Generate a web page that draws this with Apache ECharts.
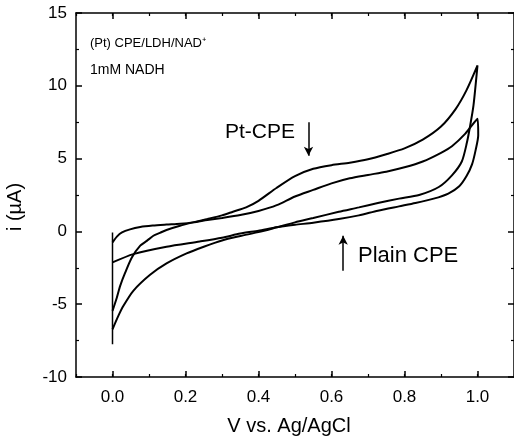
<!DOCTYPE html>
<html>
<head>
<meta charset="utf-8">
<script src="https://cdn.jsdelivr.net/npm/echarts@6/dist/echarts.min.js"></script>
<style>
html,body{margin:0;padding:0;background:#fff;}
#chart{width:514px;height:439px;}
</style>
</head>
<body>
<div id="chart"></div>
<script>
// ---- Data (V vs. Ag/AgCl, i in µA) ----
// Pt-CPE: forward (anodic) scan from 0 V to 1.0 V
const ptForward = [
  [0, -5.46], [0.012, -4.54], [0.021, -3.74], [0.035, -2.82], [0.053, -1.79],
  [0.076, -0.98], [0.094, -0.65], [0.112, -0.3], [0.13, -0.1], [0.148, 0.1],
  [0.185, 0.39], [0.221, 0.62], [0.26, 0.85], [0.30, 1.1], [0.33, 1.35],
  [0.366, 1.65], [0.40, 2.1], [0.45, 3.0], [0.50, 3.8], [0.55, 4.3],
  [0.60, 4.55], [0.65, 4.72], [0.70, 4.95], [0.75, 5.3], [0.80, 5.7],
  [0.85, 6.3], [0.90, 7.2], [0.94, 8.4], [0.97, 9.7], [1.0, 11.4]
];
// Pt-CPE: return (cathodic) scan from 1.0 V back to 0 V
const ptReturn = [
  [1.0, 11.4], [0.989, 8.65], [0.98, 7.27], [0.971, 6.1], [0.957, 4.8],
  [0.93, 3.85], [0.894, 3.05], [0.84, 2.5], [0.785, 2.25], [0.727, 1.95],
  [0.675, 1.65], [0.62, 1.35], [0.55, 0.92], [0.50, 0.62], [0.45, 0.28],
  [0.40, -0.05], [0.35, -0.32], [0.30, -0.62], [0.25, -1.05], [0.203, -1.51],
  [0.148, -2.2], [0.103, -2.98], [0.057, -4.08], [0.03, -5.11], [0.016, -5.8],
  [0, -6.72]
];
// Plain CPE: forward scan
const plainForward = [
  [0, -0.76], [0.012, -0.36], [0.026, -0.07], [0.048, 0.14], [0.076, 0.3],
  [0.11, 0.4], [0.148, 0.47], [0.185, 0.53], [0.221, 0.62], [0.26, 0.78],
  [0.30, 0.92], [0.35, 1.12], [0.40, 1.4], [0.45, 1.8], [0.50, 2.4],
  [0.55, 2.85], [0.60, 3.3], [0.65, 3.65], [0.70, 3.88], [0.75, 4.1],
  [0.80, 4.4], [0.85, 4.8], [0.90, 5.4], [0.93, 5.85], [0.966, 6.7], [1.0, 7.73]
];
// Plain CPE: return scan
const plainReturn = [
  [1.0, 7.73], [1.002, 6.6], [0.995, 5.6], [0.985, 4.6], [0.97, 3.8],
  [0.95, 3.1], [0.92, 2.6], [0.88, 2.25], [0.83, 1.95], [0.785, 1.72],
  [0.727, 1.42], [0.675, 1.1], [0.62, 0.85], [0.55, 0.6], [0.50, 0.45],
  [0.45, 0.28], [0.40, 0.05], [0.35, -0.15], [0.30, -0.43], [0.239, -0.69],
  [0.148, -1.05], [0.057, -1.56], [0, -2.13]
];
// Potential switching segment at 0 V
const switchSegment = [[0, -0.07], [0, -7.75]];

// Axis ticks
const xMajorTicks = [0.0, 0.2, 0.4, 0.6, 0.8, 1.0];

// Annotation arrows (data coordinates)
const ptArrow = [[0.537, 7.5], [0.537, 5.2]];
const plainArrow = [[0.632, -2.7], [0.632, -0.3]];

const FONT = 'Liberation Sans, Arial, Helvetica, sans-serif';
const BLACK = '#000';

const chart = echarts.init(document.getElementById('chart'), null, {renderer: 'canvas'});

function xAxisCfg(pos, major) {
  const base = {
    type: 'value', min: -0.1, max: 1.1, position: pos,
    splitLine: {show: false},
    axisLine: {show: major, onZero: false, lineStyle: {color: BLACK, width: 1.5}},
  };
  if (major) {
    base.axisTick = {show: true, inside: true, length: 6, customValues: xMajorTicks, lineStyle: {color: BLACK, width: 1.5}};
    base.axisLabel = pos === 'bottom'
      ? {show: true, customValues: xMajorTicks, formatter: v => Number(v).toFixed(1), color: BLACK, fontSize: 17, fontFamily: FONT, margin: 12}
      : {show: false};
  } else {
    base.interval = 0.1;
    base.axisTick = {show: true, inside: true, length: 3, lineStyle: {color: BLACK, width: 1.2}};
    base.axisLabel = {show: false};
  }
  return base;
}

function yAxisCfg(pos, labels) {
  return {
    type: 'value', min: -10, max: 15, interval: 5, position: pos,
    splitLine: {show: false},
    axisLine: {show: true, onZero: false, lineStyle: {color: BLACK, width: 1.5}},
    axisTick: {show: true, inside: true, length: 6, lineStyle: {color: BLACK, width: 1.5}},
    minorTick: {show: true, splitNumber: 2, length: 3, lineStyle: {color: BLACK, width: 1.2}},
    axisLabel: labels ? {show: true, color: BLACK, fontSize: 17, fontFamily: FONT, margin: 9} : {show: false}
  };
}

const lineStyle = {color: BLACK, width: 2};

const option = {
  animation: false,
  backgroundColor: '#fff',
  grid: {left: 76, top: 13, width: 440, height: 364, containLabel: false},
  xAxis: [xAxisCfg('bottom', true), xAxisCfg('bottom', false), xAxisCfg('top', true), xAxisCfg('top', false)],
  yAxis: [yAxisCfg('left', true), yAxisCfg('right', false)],
  series: [
    {
      name: 'Pt-CPE', type: 'line', xAxisIndex: 0, yAxisIndex: 0,
      data: ptForward.concat(ptReturn), showSymbol: false, smooth: 0.25,
      lineStyle: lineStyle, itemStyle: {color: BLACK},
      markLine: {
        silent: true, symbol: ['none', 'arrow'], symbolSize: [7, 9],
        label: {show: false},
        lineStyle: {color: BLACK, width: 1.5, type: 'solid'},
        data: [
          [{coord: ptArrow[0]}, {coord: ptArrow[1]}],
          [{coord: plainArrow[0]}, {coord: plainArrow[1]}]
        ]
      }
    },
    {
      name: 'Plain CPE', type: 'line', xAxisIndex: 0, yAxisIndex: 0,
      data: plainForward.concat(plainReturn), showSymbol: false, smooth: 0.25,
      lineStyle: lineStyle, itemStyle: {color: BLACK}
    },
    {
      name: 'switch', type: 'line', xAxisIndex: 0, yAxisIndex: 0,
      data: switchSegment, showSymbol: false,
      lineStyle: {color: BLACK, width: 1.5}
    }
  ],
  graphic: [
    {type: 'text', left: 90, top: 37, style: {text: '(Pt) CPE/LDH/NAD\u207A', font: '13px ' + FONT, fill: BLACK}},
    {type: 'text', left: 90, top: 63, style: {text: '1mM NADH', font: '14px ' + FONT, fill: BLACK}},
    {type: 'text', left: 225, top: 122, style: {text: 'Pt-CPE', font: '21px ' + FONT, fill: BLACK}},
    {type: 'text', left: 358, top: 245, style: {text: 'Plain CPE', font: '22px ' + FONT, fill: BLACK}},
    {type: 'text', x: 289, y: 426,
     style: {text: 'V vs. Ag/AgCl', font: '20px ' + FONT, fill: BLACK, textAlign: 'center', textVerticalAlign: 'middle'}},
    {type: 'text', x: 15, y: 207, rotation: Math.PI / 2,
     style: {text: 'i (\u00B5A)', font: '20px ' + FONT, fill: BLACK, textAlign: 'center', textVerticalAlign: 'middle'}}
  ]
};
chart.setOption(option);
</script>
</body>
</html>
